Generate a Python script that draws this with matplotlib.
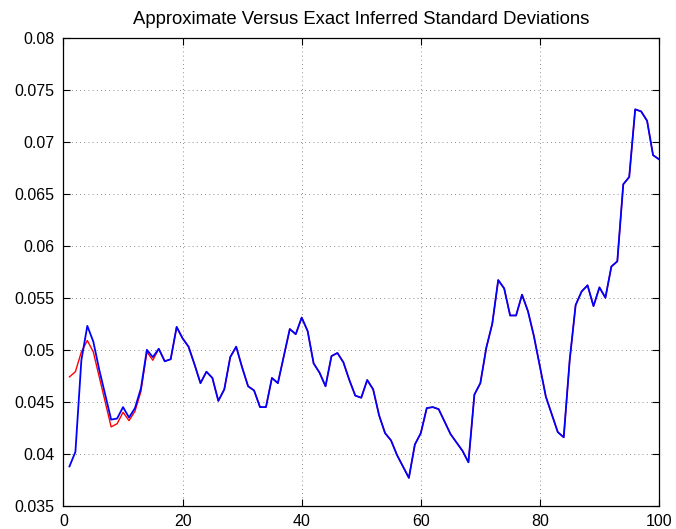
import numpy as np
import matplotlib
matplotlib.use("Agg")
import matplotlib.pyplot as plt

# exact inferred standard deviations (blue), index 1..100
exact = [0.0388, 0.0402, 0.0490, 0.0523, 0.0508, 0.0481, 0.0457, 0.0433, 0.0434, 0.0445,
         0.0435, 0.0444, 0.0463, 0.0500, 0.0493, 0.0501, 0.0489, 0.0491, 0.0522, 0.0511,
         0.0503, 0.0486, 0.0468, 0.0479, 0.0473, 0.0451, 0.0462, 0.0493, 0.0503, 0.0483,
         0.0465, 0.0461, 0.0445, 0.0445, 0.0473, 0.0468, 0.0494, 0.0520, 0.0515, 0.0531,
         0.0518, 0.0487, 0.0478, 0.0465, 0.0494, 0.0497, 0.0488, 0.0471, 0.0456, 0.0454,
         0.0471, 0.0462, 0.0437, 0.0420, 0.0413, 0.0399, 0.0388, 0.0377, 0.0409, 0.0420,
         0.0444, 0.0445, 0.0443, 0.0431, 0.0419, 0.0411, 0.0403, 0.0392, 0.0457, 0.0468,
         0.0502, 0.0525, 0.0567, 0.0559, 0.0533, 0.0533, 0.0553, 0.0537, 0.0513, 0.0484,
         0.0455, 0.0438, 0.0421, 0.0416, 0.0490, 0.0543, 0.0556, 0.0562, 0.0542, 0.0560,
         0.0550, 0.0580, 0.0585, 0.0659, 0.0666, 0.0731, 0.0729, 0.0720, 0.0687, 0.0683]

# approximate values differ only over the first 15 points
approx_start = [0.0474, 0.0479, 0.0498, 0.0509, 0.0498, 0.0474, 0.0450, 0.0426, 0.0429, 0.0440,
                0.0432, 0.0441, 0.0460, 0.0498, 0.0490]
approx = approx_start + exact[len(approx_start):]

x = np.arange(1, len(exact) + 1)

plt.rcParams['font.family'] = ['Liberation Sans', 'DejaVu Sans']

fig = plt.figure(figsize=(6.76, 5.29), dpi=100)
ax = fig.add_axes([63.5 / 676, 1 - 506 / 529, (659 - 63.5) / 676, (506 - 37.5) / 529])

ax.plot(x, approx, color='red', linewidth=1.0)
ax.plot(x, exact, color='blue', linewidth=1.3)

ax.set_xlim(0, 100)
ax.set_ylim(0.035, 0.08)
ax.set_xticks(np.arange(0, 101, 20))
ax.set_yticks(np.arange(0.035, 0.0801, 0.005))
ax.set_yticklabels(['0.035', '0.04', '0.045', '0.05', '0.055', '0.06', '0.065', '0.07', '0.075', '0.08'])

ax.tick_params(direction='in', top=True, right=True, length=5, width=0.8, labelsize=11.5)
ax.tick_params(axis='x', pad=5.5)
ax.tick_params(axis='y', pad=6.3)
ax.grid(True, color='black', linestyle=(0, (1, 4)), linewidth=0.6, alpha=0.6)
for s in ax.spines.values():
    s.set_linewidth(0.9)

ax.set_title('Approximate Versus Exact Inferred Standard Deviations', fontsize=13.3, pad=10)

fig.savefig('out.png', dpi=100)
